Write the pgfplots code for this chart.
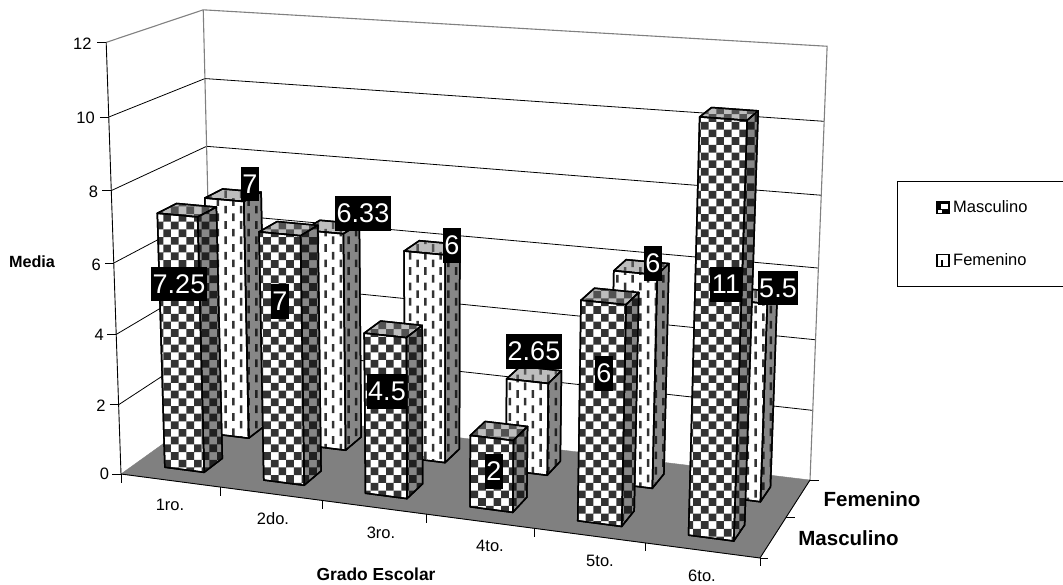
\documentclass[border=0pt]{standalone}
\usepackage{fontspec}
\setmainfont{Liberation Sans}
\usepackage{pgfplots}
\pgfplotsset{compat=1.18}
\usetikzlibrary{patterns}

% 8x8 brush of the original, screen aligned
\pgfdeclarepatternformonly{tablero}{\pgfqpoint{2.02pt}{1.34pt}}{\pgfqpoint{17.38pt}{16.7pt}}{\pgfqpoint{15.36pt}{15.36pt}}{%
  \pgfpathrectangle{\pgfqpoint{2.02pt}{1.34pt}}{\pgfqpoint{7.68pt}{7.68pt}}%
  \pgfpathrectangle{\pgfqpoint{9.7pt}{9.02pt}}{\pgfqpoint{7.68pt}{7.68pt}}%
  \pgfusepath{fill}}
\pgfdeclarepatternformonly{rayas}{\pgfqpoint{0pt}{1.9pt}}{\pgfqpoint{15.36pt}{17.26pt}}{\pgfqpoint{15.36pt}{15.36pt}}{%
  \pgfpathrectangle{\pgfqpoint{9.4pt}{1.9pt}}{\pgfqpoint{2.5pt}{7.68pt}}%
  \pgfpathrectangle{\pgfqpoint{1.7pt}{9.58pt}}{\pgfqpoint{2.5pt}{7.68pt}}%
  \pgfusepath{fill}}

\definecolor{suelo}{gray}{0.5}
\definecolor{oscuro}{gray}{0.2}
\definecolor{muyoscuro}{gray}{0.13}
\definecolor{medio}{gray}{0.53}
\definecolor{claro}{gray}{0.74}

\pgfplotsset{
  cara/.style={forget plot, draw=black, line width=1.5pt, line join=round},
  Mfront/.style={cara, preaction={fill=white}, pattern=tablero, pattern color=oscuro},
  Mside/.style={cara, preaction={fill=medio}, pattern=tablero, pattern color=muyoscuro},
  Mtop/.style={cara, preaction={fill=claro}, pattern=tablero, pattern color=oscuro!85!white},
  Ffront/.style={cara, preaction={fill=white}, pattern=rayas, pattern color=oscuro},
  Fside/.style={cara, preaction={fill=medio}, pattern=rayas, pattern color=muyoscuro},
  Ftop/.style={cara, preaction={fill=claro}, pattern=rayas, pattern color=oscuro!85!white},
  linea/.style={forget plot, draw=black, line width=0.8pt},
  pared/.style={forget plot, draw=black!50, line width=1.1pt},
}

% perspective of the 3D chart: grade 0..6, row 0..2, media 0..12 to pixels
\newcommand{\proj}[3]{%
  \pgfmathsetmacro{\pw}{1-0.08253*(#1)/6+0.07726*(#2)/2-0.0442*(#3)/12}%
  \pgfmathsetmacro{\px}{(121+576.28*(#1)/6+108.46*(#2)/2-19.5*(#3)/12)/\pw}%
  \pgfmathsetmacro{\py}{(474+37.95*(#1)/6-34.48*(#2)/2-433.5*(#3)/12)/\pw+4*(#2)/2*(1-(#1)/6)*(#3)/12}%
}

% \barra{grade}{row}{value}{M or F}
\newcommand{\barra}[4]{%
  \pgfmathsetmacro{\xa}{#1+0.3}\pgfmathsetmacro{\xb}{#1+0.7}%
  \pgfmathsetmacro{\ya}{#2+0.3}\pgfmathsetmacro{\yb}{#2+0.7}%
  \proj{\xa}{\ya}{#3}\let\Ax\px\let\Ay\py
  \proj{\xb}{\ya}{#3}\let\Bx\px\let\By\py
  \proj{\xb}{\ya}{0}\let\Cx\px\let\Cy\py
  \proj{\xa}{\ya}{0}\let\Dx\px\let\Dy\py
  \proj{\xb}{\yb}{#3}\let\Ex\px\let\Ey\py
  \proj{\xb}{\yb}{0}\let\Fx\px\let\Fy\py
  \proj{\xa}{\yb}{#3}\let\Gx\px\let\Gy\py
  \addplot[#4top] coordinates {(\Ax,\Ay) (\Bx,\By) (\Ex,\Ey) (\Gx,\Gy)} -- cycle;
  \addplot[#4side] coordinates {(\Bx,\By) (\Ex,\Ey) (\Fx,\Fy) (\Cx,\Cy)} -- cycle;
  \addplot[#4front] coordinates {(\Ax,\Ay) (\Bx,\By) (\Cx,\Cy) (\Dx,\Dy)} -- cycle;
}
\newcommand{\dato}[3]{\node[fill=black, text=white, inner xsep=1.5pt, inner ysep=0pt,
  minimum height=34.5pt, font=\fontsize{27}{27}\selectfont] at (axis cs:#1,#2) {#3};}

\begin{document}
\begin{tikzpicture}
\path[use as bounding box] (0,0) rectangle (1063pt,584pt);
\begin{axis}[
  width=1063pt, height=584pt, scale only axis,
  xmin=0, xmax=1063, ymin=0, ymax=584, y dir=reverse,
  hide axis, clip=false,
  legend style={at={(axis cs:897,181)}, anchor=north west, draw=black, line width=0.8pt,
    fill=white, row sep=37pt, font=\fontsize{16.5}{16}\selectfont,
    inner xsep=39pt, inner ysep=18pt,
    nodes={minimum height=16pt, inner sep=0pt, inner xsep=3.5pt}},
  legend cell align=left,
]
\addlegendimage{legend image code/.code={
  \fill[black] (0pt,-6pt) rectangle (12pt,6pt);
  \fill[white] (4pt,-1pt) rectangle (11pt,3pt);
  \fill[white] (1pt,-5pt) rectangle (4pt,-3pt);
  \draw[black, line width=1.3pt] (0pt,-6pt) rectangle (12pt,6pt);}}
\addlegendimage{legend image code/.code={
  \fill[white] (0pt,-6pt) rectangle (12pt,6pt);
  \fill[black] (4pt,-6pt) rectangle (5.5pt,0pt);
  \draw[black, line width=1.3pt] (0pt,-6pt) rectangle (12pt,6pt);}}

% floor
\proj{0}{0}{0}\let\ax\px\let\ay\py
\proj{6}{0}{0}\let\bx\px\let\by\py
\proj{6}{2}{0}\let\cx\px\let\cy\py
\proj{0}{2}{0}\let\dx\px\let\dy\py
\addplot[forget plot, fill=suelo, draw=suelo] coordinates {(\ax,\ay) (\bx,\by) (\cx,\cy) (\dx,\dy)} -- cycle;

% gridlines on the two walls
\pgfplotsinvokeforeach{2,4,6,8,10}{
  \proj{0}{0}{#1}\let\ax\px\let\ay\py
  \proj{0}{2}{#1}\let\bx\px\let\by\py
  \proj{6}{2}{#1}\let\cx\px\let\cy\py
  \addplot[linea] coordinates {(\ax,\ay) (\bx,\by) (\cx,\cy)};
}
% wall outlines
\proj{0}{0}{12}\let\ax\px\let\ay\py
\proj{0}{2}{12}\let\bx\px\let\by\py
\proj{6}{2}{12}\let\cx\px\let\cy\py
\proj{6}{2}{0}\let\ex\px\let\ey\py
\proj{0}{2}{0}\let\dx\px\let\dy\py
\addplot[pared] coordinates {(\ax,\ay) (\bx,\by) (\cx,\cy) (\ex,\ey)};
\addplot[pared] coordinates {(\bx,\by) (\dx,\dy)};

% axis lines and ticks
\proj{0}{0}{0}\let\ex\px\let\ey\py
\proj{0}{0}{12}\let\ax\px\let\ay\py
\addplot[linea, line width=0.9pt] coordinates {(\ax,\ay) (\ex,\ey)};
\proj{6}{0}{0}\let\bx\px\let\by\py
\proj{6}{2}{0}\let\cx\px\let\cy\py
\addplot[linea, line width=0.9pt] coordinates {(\ex,\ey) (\bx,\by) (\cx,\cy)};
\pgfplotsinvokeforeach{0,2,4,6,8,10,12}{
  \proj{0}{0}{#1}\pgfmathsetmacro{\qx}{\px-9}
  \addplot[linea] coordinates {(\qx,\py) (\px,\py)};
}
\pgfplotsinvokeforeach{0,1,2,3,4,5,6}{
  \proj{#1}{0}{0}\pgfmathsetmacro{\qy}{\py+8.5}
  \addplot[linea] coordinates {(\px,\py) (\px,\qy)};
}
\pgfplotsinvokeforeach{0,1,2}{
  \proj{6}{#1}{0}\pgfmathsetmacro{\qx}{\px+8.5}
  \addplot[linea] coordinates {(\px,\py) (\qx,\py)};
}

% Femenino, back row
\barra{0}{1}{7}{F}
\barra{1}{1}{6.33}{F}
\barra{2}{1}{6}{F}
\barra{3}{1}{2.65}{F}
\barra{4}{1}{6}{F}
\barra{5}{1}{5.5}{F}
% Masculino, front row
\barra{0}{0}{7.25}{M}
\barra{1}{0}{7}{M}
\barra{2}{0}{4.5}{M}
\barra{3}{0}{2}{M}
\barra{4}{0}{6}{M}
\barra{5}{0}{11}{M}

% data labels
\dato{250}{184}{7}
\dato{179}{284}{7.25}
\dato{363}{213.5}{6.33}
\dato{280}{301.5}{7}
\dato{452}{245.5}{6}
\dato{387}{391.5}{4.5}
\dato{534}{351.5}{2.65}
\dato{494}{471.5}{2}
\dato{653}{263.5}{6}
\dato{604}{373.5}{6}
\dato{726}{284.5}{11}
\dato{778}{288}{5.5}

% tick labels
\begin{scope}[font=\fontsize{16.5}{16}\selectfont]
\node[anchor=east, inner sep=0pt] at (axis cs:91.7,43.7) {12};
\node[anchor=east, inner sep=0pt] at (axis cs:95,118) {10};
\node[anchor=east, inner sep=0pt] at (axis cs:98.3,191.5) {8};
\node[anchor=east, inner sep=0pt] at (axis cs:101,264.7) {6};
\node[anchor=east, inner sep=0pt] at (axis cs:104,335) {4};
\node[anchor=east, inner sep=0pt] at (axis cs:105.7,405.7) {2};
\node[anchor=east, inner sep=0pt] at (axis cs:109.3,474) {0};
\node at (axis cs:170,505) {1ro.};
\node at (axis cs:273,519) {2do.};
\node at (axis cs:381,533) {3ro.};
\node at (axis cs:490,546) {4to.};
\node at (axis cs:600,561) {5to.};
\node at (axis cs:702,576) {6to.};
\end{scope}
\node[font=\fontsize{16.2}{16}\selectfont\bfseries] at (axis cs:32,262) {Media};
\node[font=\fontsize{17.4}{17}\selectfont\bfseries] at (axis cs:376,574) {Grado Escolar};
\node[font=\fontsize{20.5}{20}\selectfont\bfseries] at (axis cs:872,499) {Femenino};
\node[font=\fontsize{20.5}{20}\selectfont\bfseries] at (axis cs:848.5,538) {Masculino};

\legend{Masculino,Femenino}
\end{axis}
\end{tikzpicture}
\end{document}
